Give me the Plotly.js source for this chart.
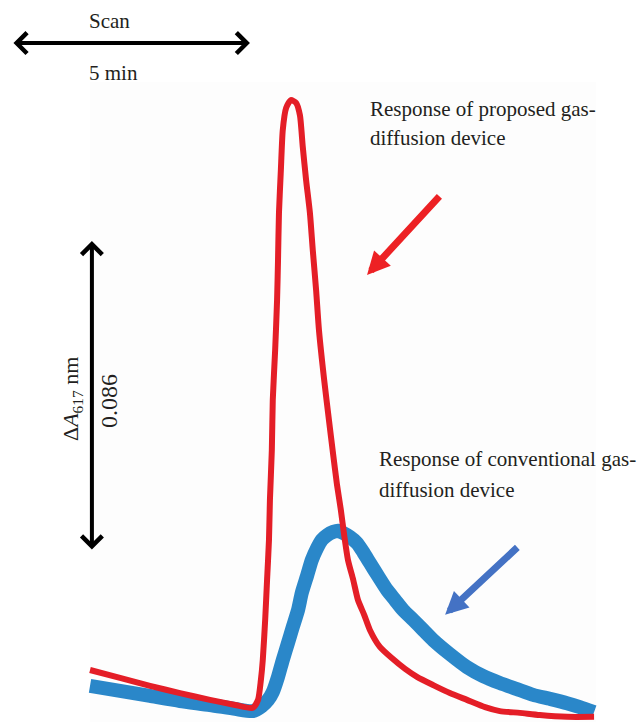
<!DOCTYPE html>
<html>
<head>
<meta charset="utf-8">
<script src="https://cdn.plot.ly/plotly-3.0.1.min.js"></script>
<style>
  html, body { margin: 0; padding: 0; background: #ffffff; }
  #chart { width: 641px; height: 722px; }
</style>
</head>
<body>
<div id="chart"></div>
<script>
// Flow-injection peaks recorded at 617 nm (time in min, absorbance change in AU)

// Proposed gas-diffusion device
const timeProposed = [0, 0.63, 1.26, 1.89, 2.52, 3.05, 3.42, 3.53, 3.59, 3.63, 3.68, 3.72, 3.76, 3.78,
  3.82, 3.84, 3.89, 3.93, 3.95, 3.97, 4.01, 4.05, 4.12, 4.22, 4.33, 4.41, 4.47, 4.54, 4.62, 4.68,
  4.75, 4.81, 4.92, 5.02, 5.11, 5.19, 5.27, 5.34, 5.42, 5.53, 5.63, 5.76, 5.88, 6.09, 6.34, 6.62,
  6.87, 7.21, 7.56, 7.92, 8.30, 8.61, 9.03, 9.45, 10.02, 10.59];
const absProposed = [0.0111, 0.0089, 0.0067, 0.0047, 0.0028, 0.0014, 0.0006, 0.0028, 0.0083, 0.0139,
  0.0250, 0.0361, 0.0472, 0.0583, 0.0721, 0.0860, 0.0999, 0.1137, 0.1248, 0.1379, 0.1498, 0.1609,
  0.1670, 0.1692, 0.1684, 0.1650, 0.1562, 0.1470, 0.1379, 0.1276, 0.1165, 0.1054, 0.0915, 0.0804,
  0.0707, 0.0624, 0.0555, 0.0485, 0.0416, 0.0361, 0.0305, 0.0264, 0.0222, 0.0175, 0.0144, 0.0114,
  0.0092, 0.0069, 0.0047, 0.0028, 0.0008, -0.0003, -0.0008, -0.0014, -0.0019, -0.0019];

// Conventional gas-diffusion device
const timeConventional = [0, 0.63, 1.26, 1.89, 2.52, 3.05, 3.42, 3.61, 3.74, 3.84, 3.95, 4.05, 4.16,
  4.26, 4.37, 4.45, 4.56, 4.66, 4.77, 4.87, 4.98, 5.11, 5.21, 5.32, 5.46, 5.61, 5.74, 5.88, 6.05,
  6.24, 6.41, 6.58, 6.79, 7.00, 7.21, 7.56, 7.92, 8.26, 8.61, 8.97, 9.31, 9.66, 10.02, 10.29, 10.59];
const absConventional = [0.0067, 0.0053, 0.0039, 0.0025, 0.0014, 0.0003, -0.0003, 0.0011, 0.0028,
  0.0050, 0.0092, 0.0139, 0.0186, 0.0230, 0.0277, 0.0325, 0.0372, 0.0416, 0.0449, 0.0472, 0.0485,
  0.0494, 0.0497, 0.0491, 0.0480, 0.0463, 0.0438, 0.0408, 0.0372, 0.0333, 0.0305, 0.0277, 0.0250,
  0.0222, 0.0194, 0.0155, 0.0119, 0.0094, 0.0075, 0.0058, 0.0042, 0.0031, 0.0019, 0.0008, -0.0006];

// Scale bars
const scanMinutes = 5;
const deltaA = 0.086;

// Labels
const labelScan = 'Scan';
const labelScanValue = '5 min';
const labelDeltaA = 'Δ<i>A</i><sub>617</sub> nm';
const labelDeltaValue = '0.086';
const labelProposed = ['Response of proposed gas-', 'diffusion device'];
const labelConventional = ['Response of conventional gas-', 'diffusion device'];

const serif = 'Liberation Serif, Times New Roman, serif';
const textColor = '#231f20';

const traces = [
  {
    x: timeConventional, y: absConventional, mode: 'lines', type: 'scatter',
    line: { color: '#2a87c9', width: 14, shape: 'spline', smoothing: 0.6 },
    hoverinfo: 'skip'
  },
  {
    x: timeProposed, y: absProposed, mode: 'lines', type: 'scatter',
    line: { color: '#e41e27', width: 6, shape: 'spline', smoothing: 0.6 },
    hoverinfo: 'skip'
  }
];

// Scale bar anchors (data units)
const scanStart = -1.64, scanLevel = 0.1850;
const barTime = 0.04, barBase = 0.0441;

function arrow(x0, y0, x1, y1, color, width, size, head, both) {
  const a = {
    x: x1, y: y1, ax: x0, ay: y0, xref: 'x', yref: 'y', axref: 'x', ayref: 'y',
    text: '', showarrow: true, arrowcolor: color, arrowwidth: width,
    arrowhead: head, arrowsize: size, standoff: 0, startstandoff: 0
  };
  if (both) {
    a.arrowside = 'end+start';
    a.startarrowhead = head;
    a.startarrowsize = size;
  }
  return a;
}

function label(text, px, py, size, opts) {
  return Object.assign({
    x: px / 641, y: 1 - py / 722, xref: 'paper', yref: 'paper',
    text: text, showarrow: false, xanchor: 'center', yanchor: 'middle',
    font: { family: serif, size: size, color: textColor }
  }, opts || {});
}

const annotations = [
  arrow(scanStart, scanLevel, scanStart + scanMinutes, scanLevel, '#000000', 4, 1, 4, true),
  arrow(barTime, barBase, barTime, barBase + deltaA, '#000000', 4, 1, 4, true),
  arrow(7.37, 0.1429, 5.82, 0.1207, '#ed2124', 7, 0.65, 2, false),
  arrow(9.01, 0.0455, 7.46, 0.0264, '#4472c4', 7, 0.65, 2, false),
  label(labelScan, 109.5, 21, 21),
  label(labelScanValue, 113, 73, 21),
  label(labelDeltaA, 72, 399, 22, { textangle: -90 }),
  label(labelDeltaValue, 109, 401, 24, { textangle: -90 }),
  label(labelProposed[0], 368, 109, 21, { xanchor: 'left' }),
  label(labelProposed[1], 368, 138, 21, { xanchor: 'left' }),
  label(labelConventional[0], 377, 459, 21, { xanchor: 'left' }),
  label(labelConventional[1], 377, 490, 21, { xanchor: 'left' })
];

const layout = {
  width: 641, height: 722,
  margin: { l: 0, r: 0, t: 0, b: 0, pad: 0 },
  paper_bgcolor: '#ffffff', plot_bgcolor: '#ffffff',
  showlegend: false,
  xaxis: { range: [-1.891, 11.576], visible: false, fixedrange: true },
  yaxis: { range: [-0.00333, 0.19695], visible: false, fixedrange: true },
  shapes: [
    // faint tone of the recorder chart paper
    { type: 'rect', xref: 'paper', yref: 'paper', x0: 90 / 641, x1: 596 / 641,
      y0: 0, y1: 1 - 82 / 722, fillcolor: '#fdfdfd', line: { width: 0 }, layer: 'below' }
  ],
  annotations: annotations
};

Plotly.newPlot('chart', traces, layout, { displayModeBar: false, staticPlot: true });
</script>
</body>
</html>
